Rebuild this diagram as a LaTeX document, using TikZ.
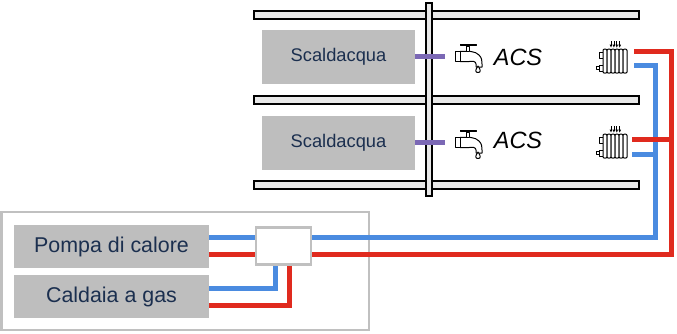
\documentclass[tikz,border=0pt]{standalone}
\usepackage{fontspec}
\setmainfont{Liberation Sans}
\definecolor{pipeblue}{HTML}{4A8BE0}
\definecolor{pipered}{HTML}{E02A1E}
\definecolor{boxgrey}{HTML}{BEBEBE}
\definecolor{framegrey}{HTML}{C0C0C0}
\definecolor{navytext}{HTML}{1B2F4F}
\definecolor{slabgrey}{HTML}{E8E8E8}
\definecolor{purplepipe}{HTML}{7B68B5}
\tikzset{
  x=1pt,y=-1pt,
  slab/.style={draw=black,fill=slabgrey,line width=2pt,minimum height=8pt,inner sep=0,minimum width=385pt,anchor=west},
  heater/.style={fill=boxgrey,inner sep=0,minimum width=153pt,minimum height=54pt,font=\fontsize{18.3}{21}\selectfont,text=navytext},
  source/.style={fill=boxgrey,inner sep=0,minimum width=195pt,minimum height=43pt,font=\fontsize{21.4}{24}\selectfont,text=navytext},
  acs/.style={font=\itshape\fontsize{23.5}{27}\selectfont,text=black,inner sep=0},
  bluepipe/.style={draw=pipeblue,line width=5pt,line join=miter},
  redpipe/.style={draw=pipered,line width=5pt,line join=miter},
  purple/.style={draw=purplepipe,line width=5pt},
  icon/.style={draw=black,line width=1pt,fill=white,line join=round},
  tap/.pic={
    \draw[icon] (5,9.5) -- (5,8.5) .. controls (14,8) and (20,8) .. (24,12) .. controls (27,15) and (27,18) .. (27,21) -- (27,24) -- (21,24) -- (21,21) .. controls (21,18) and (17,18) .. (14,18.5) -- (5,18.5) -- cycle;
    \draw[icon] (0,8.5) rectangle (5,18.5);
    \draw[icon] (11.5,3) rectangle (14.5,8.5);
    \draw[icon] (5,1) -- (21,1) -- (21,2.6) -- (5,2.6) -- cycle;
    \draw[icon] (23,23) .. controls (20,27) and (20,29.5) .. (23,29.5) .. controls (26,29.5) and (26,27) .. (23,23) -- cycle;
  },
  radiator/.pic={
    \draw[icon] (3,12) rectangle (7,18);
    \draw[icon] (3,25) rectangle (7,31);
    \draw[icon] (0,26.5) rectangle (3,29.5);
    \foreach \k in {0,...,5} {
      \draw[icon] (7+4*\k,32) -- (7+4*\k,10.5) .. controls (7+4*\k,8.5) and (11+4*\k,8.5) .. (11+4*\k,10.5) -- (11+4*\k,32) .. controls (11+4*\k,33.5) and (7+4*\k,33.5) .. (7+4*\k,32) -- cycle;
    }
    \foreach \k in {0,...,3} {
      \draw[draw=black,line width=0.8pt] (15+2.9*\k,1) -- (15+2.9*\k,6);
      \fill[black] (13.6+2.9*\k,4.5) -- (16.4+2.9*\k,4.5) -- (15+2.9*\k,7.5) -- cycle;
    }
  }
}
\begin{document}
\begin{tikzpicture}
\useasboundingbox (0,0) rectangle (677,333);
% floors
\node[slab] (floorA) at (253,15) {};
\node[slab] (floorB) at (253,100) {};
\node[slab] (floorC) at (253,185) {};
% riser
\draw[draw=black,fill=slabgrey,line width=2pt] (426,3) rectangle (432,196);
\node[heater] (heatA) at (338.5,57) {\raisebox{-1pt}{Scaldacqua}};
\node[heater] (heatB) at (338.5,143) {\raisebox{-1pt}{Scaldacqua}};
% tap + ACS
\coordinate (tapA) at (445,56.5);
\coordinate (tapB) at (445,142.5);
\draw[purple] (heatA.east |- tapA) -- (tapA);
\draw[purple] (heatB.east |- tapB) -- (tapB);
\pic at (455,43) {tap};
\pic at (455,129) {tap};
\node[acs] (acsA) at (518,57.5) {ACS};
\node[acs] (acsB) at (518,140.5) {ACS};
\pic at (596,40) {radiator};
\pic at (596,125) {radiator};
% plant
\draw[framegrey,line width=2.5pt] (1.5,212) rectangle (369,330);
\node[source] (pompa) at (111.5,246.5) {\raisebox{-2pt}{Pompa di calore}};
\node[source] (caldaia) at (111.5,296.5) {\raisebox{-2pt}{Caldaia a gas}};
\node[draw=framegrey,fill=white,line width=2.5pt,inner sep=0,minimum width=55pt,minimum height=37pt] (mixer) at (283.5,246) {};
% free pipe ends at radiators
\coordinate (radAr) at (634,51);
\coordinate (radAb) at (634,65);
\coordinate (radBr) at (632,139);
\coordinate (radBb) at (632,154);
% blue
\draw[bluepipe] (pompa.east |- 0,237.5) -- (mixer.west |- 0,237.5);
\draw[bluepipe] (mixer.east |- 0,237.5) -- (655.5,237.5) -- (655.5,65) -- (radAb);
\draw[bluepipe] (655.5,154) -- (radBb);
\draw[bluepipe] (caldaia.east |- 0,288) -- (275,288) -- (275,0 |- mixer.south);
% red
\draw[redpipe] (pompa.east |- 0,254.5) -- (mixer.west |- 0,254.5);
\draw[redpipe] (mixer.east |- 0,254.5) -- (671,254.5) -- (671,51) -- (radAr);
\draw[redpipe] (671,139) -- (radBr);
\draw[redpipe] (caldaia.east |- 0,305) -- (289,305) -- (289,0 |- mixer.south);
\end{tikzpicture}
\end{document}
